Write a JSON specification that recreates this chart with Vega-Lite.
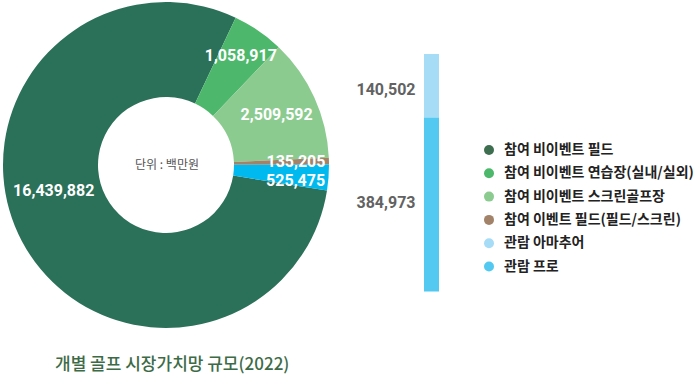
{
  "$schema": "https://vega.github.io/schema/vega-lite/v6.json",
  "width": 700,
  "height": 340,
  "padding": {"left": 0, "top": 0, "right": 0, "bottom": 8},
  "autosize": {"type": "pad"},
  "background": "white",
  "config": {"view": {"stroke": null}},
  "title": {
    "text": "개별 골프 시장가치망 규모(2022)",
    "orient": "bottom",
    "anchor": "start",
    "offset": 17,
    "dx": 55,
    "font": "Noto Sans CJK KR",
    "fontSize": 17,
    "fontWeight": 500,
    "color": "#3d6b47"
  },
  "datasets": {
    "golf": [
      {"category": "참여 비이벤트 필드", "slice": "참여 비이벤트 필드", "value": 16439882, "rank": 5},
      {"category": "참여 비이벤트 연습장(실내/실외)", "slice": "참여 비이벤트 연습장(실내/실외)", "value": 1058917, "rank": 1},
      {"category": "참여 비이벤트 스크린골프장", "slice": "참여 비이벤트 스크린골프장", "value": 2509592, "rank": 2},
      {"category": "참여 이벤트 필드(필드/스크린)", "slice": "참여 이벤트 필드(필드/스크린)", "value": 135205, "rank": 3},
      {"category": "관람 아마추어", "slice": "관람", "value": 140502, "rank": 4},
      {"category": "관람 프로", "slice": "관람", "value": 384973, "rank": 4}
    ]
  },
  "data": {"name": "golf"},
  "layer": [
    {
      "transform": [{"aggregate": [{"op": "sum", "field": "value", "as": "total"}], "groupby": ["slice", "rank"]}],
      "mark": {"type": "arc", "x": 166, "y": 165, "radius": 163, "innerRadius": 68},
      "encoding": {
        "theta": {"field": "total", "type": "quantitative", "stack": true, "scale": {"range": [0.4416, 6.7248]}},
        "order": {"field": "rank", "type": "quantitative"},
        "fill": {
          "field": "slice", "type": "nominal", "legend": null,
          "scale": {
            "domain": ["참여 비이벤트 필드", "참여 비이벤트 연습장(실내/실외)", "참여 비이벤트 스크린골프장", "참여 이벤트 필드(필드/스크린)", "관람"],
            "range": ["#2b7159", "#4db86b", "#8ccb90", "#a28268", "#00b9ef"]
          }
        }
      }
    },
    {
      "transform": [{"aggregate": [{"op": "sum", "field": "value", "as": "total"}], "groupby": ["slice", "rank"]}],
      "mark": {"type": "text", "x": 166, "y": 165, "radius": 132, "font": "Roboto", "fontSize": 16, "fontWeight": "bold", "fill": "white"},
      "encoding": {
        "theta": {"field": "total", "type": "quantitative", "stack": true},
        "order": {"field": "rank", "type": "quantitative"},
        "detail": {"field": "slice", "type": "nominal"},
        "text": {"field": "total", "type": "quantitative", "format": ","},
        "opacity": {"condition": {"test": "datum.rank === 1", "value": 1}, "value": 0}
      }
    },
    {
      "transform": [{"aggregate": [{"op": "sum", "field": "value", "as": "total"}], "groupby": ["slice", "rank"]}],
      "mark": {"type": "text", "x": 166, "y": 165, "radius": 121.5, "font": "Roboto", "fontSize": 16, "fontWeight": "bold", "fill": "white"},
      "encoding": {
        "theta": {"field": "total", "type": "quantitative", "stack": true},
        "order": {"field": "rank", "type": "quantitative"},
        "detail": {"field": "slice", "type": "nominal"},
        "text": {"field": "total", "type": "quantitative", "format": ","},
        "opacity": {"condition": {"test": "datum.rank === 2", "value": 1}, "value": 0}
      }
    },
    {
      "transform": [{"aggregate": [{"op": "sum", "field": "value", "as": "total"}], "groupby": ["slice", "rank"]}],
      "mark": {"type": "text", "x": 166, "y": 165, "radius": 130, "font": "Roboto", "fontSize": 16, "fontWeight": "bold", "fill": "white"},
      "encoding": {
        "theta": {"field": "total", "type": "quantitative", "stack": true},
        "order": {"field": "rank", "type": "quantitative"},
        "detail": {"field": "slice", "type": "nominal"},
        "text": {"field": "total", "type": "quantitative", "format": ","},
        "opacity": {"condition": {"test": "datum.rank === 3", "value": 1}, "value": 0}
      }
    },
    {
      "transform": [{"aggregate": [{"op": "sum", "field": "value", "as": "total"}], "groupby": ["slice", "rank"]}],
      "mark": {"type": "text", "x": 166, "y": 165, "radius": 130, "dy": 6, "font": "Roboto", "fontSize": 16, "fontWeight": "bold", "fill": "white"},
      "encoding": {
        "theta": {"field": "total", "type": "quantitative", "stack": true},
        "order": {"field": "rank", "type": "quantitative"},
        "detail": {"field": "slice", "type": "nominal"},
        "text": {"field": "total", "type": "quantitative", "format": ","},
        "opacity": {"condition": {"test": "datum.rank === 4", "value": 1}, "value": 0}
      }
    },
    {
      "transform": [{"aggregate": [{"op": "sum", "field": "value", "as": "total"}], "groupby": ["slice", "rank"]}],
      "mark": {"type": "text", "x": 166, "y": 165, "radius": 110, "dx": -15, "dy": -25, "font": "Roboto", "fontSize": 16, "fontWeight": "bold", "fill": "white"},
      "encoding": {
        "theta": {"field": "total", "type": "quantitative", "stack": true},
        "order": {"field": "rank", "type": "quantitative"},
        "detail": {"field": "slice", "type": "nominal"},
        "text": {"field": "total", "type": "quantitative", "format": ","},
        "opacity": {"condition": {"test": "datum.rank === 5", "value": 1}, "value": 0}
      }
    },
    {
      "data": {"values": [{"note": "단위 : 백만원"}]},
      "mark": {"type": "text", "x": 167, "y": 165, "font": "Noto Sans CJK KR", "fontSize": 12, "fill": "#555555"},
      "encoding": {"text": {"field": "note", "type": "nominal"}}
    },
    {
      "transform": [{"filter": "datum.slice === '관람'"}],
      "mark": {"type": "bar"},
      "encoding": {
        "x": {"field": "slice", "type": "nominal", "axis": null, "scale": {"type": "band", "range": [424, 439], "paddingInner": 0, "paddingOuter": 0}},
        "y": {"field": "value", "type": "quantitative", "stack": "zero", "axis": null, "scale": {"nice": false, "zero": true, "range": [291.5, 54]}},
        "order": {"field": "value", "type": "quantitative", "sort": "descending"},
        "color": {
          "field": "category", "type": "nominal",
          "scale": {
            "domain": ["참여 비이벤트 필드", "참여 비이벤트 연습장(실내/실외)", "참여 비이벤트 스크린골프장", "참여 이벤트 필드(필드/스크린)", "관람 아마추어", "관람 프로"],
            "range": ["#3e6e50", "#4db86b", "#8ccb90", "#a28268", "#a6dcf6", "#53c9f2"]
          },
          "legend": {
            "orient": "none",
            "legendX": 482,
            "legendY": 143,
            "title": null,
            "padding": 0,
            "symbolType": "circle",
            "symbolSize": 100,
            "symbolStrokeWidth": 0,
            "labelFont": "Noto Sans CJK KR",
            "labelFontSize": 14,
            "labelFontWeight": "bold",
            "labelColor": "#222222",
            "labelOffset": 8,
            "labelLimit": 300,
            "rowPadding": 9.3
          }
        }
      }
    },
    {
      "transform": [{"filter": "datum.slice === '관람'"}],
      "mark": {"type": "text", "align": "right", "dx": -16, "dy": 36, "font": "Roboto", "fontSize": 16, "fontWeight": "bold", "fill": "#626262"},
      "encoding": {
        "x": {"field": "slice", "type": "nominal"},
        "y": {"field": "value", "type": "quantitative", "stack": "zero"},
        "order": {"field": "value", "type": "quantitative", "sort": "descending"},
        "detail": {"field": "category", "type": "nominal"},
        "text": {"field": "value", "type": "quantitative", "format": ","},
        "opacity": {"condition": {"test": "datum.category === '관람 아마추어'", "value": 1}, "value": 0}
      }
    },
    {
      "transform": [{"filter": "datum.slice === '관람'"}],
      "mark": {"type": "text", "align": "right", "dx": -16, "dy": 85, "font": "Roboto", "fontSize": 16, "fontWeight": "bold", "fill": "#626262"},
      "encoding": {
        "x": {"field": "slice", "type": "nominal"},
        "y": {"field": "value", "type": "quantitative", "stack": "zero"},
        "order": {"field": "value", "type": "quantitative", "sort": "descending"},
        "detail": {"field": "category", "type": "nominal"},
        "text": {"field": "value", "type": "quantitative", "format": ","},
        "opacity": {"condition": {"test": "datum.category === '관람 프로'", "value": 1}, "value": 0}
      }
    }
  ]
}
